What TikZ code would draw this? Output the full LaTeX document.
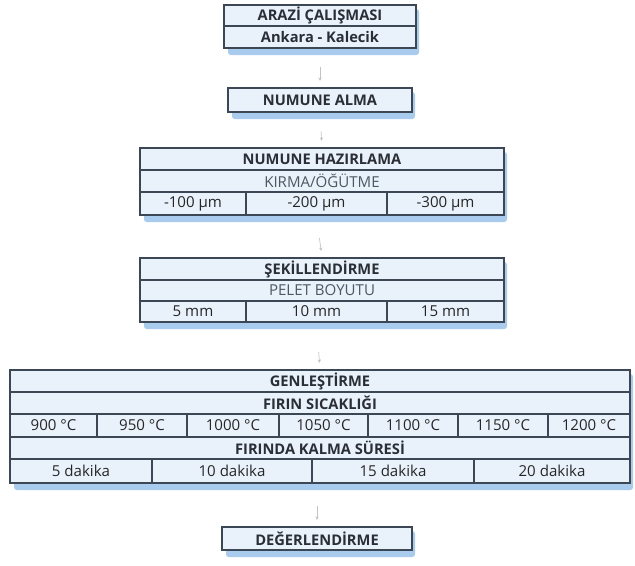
\documentclass[tikz,border=0pt]{standalone}
\usepackage{fontspec}
\setmainfont{Open Sans}
\usetikzlibrary{arrows.meta,positioning}
\definecolor{cellfill}{HTML}{E9F2FB}
\definecolor{cellline}{HTML}{3B4754}
\definecolor{shadowblue}{HTML}{A9CBEE}
\definecolor{arrowgray}{HTML}{BEC4CB}
\definecolor{softtext}{HTML}{4E5862}
\definecolor{headink}{HTML}{2A2F35}

\tikzset{
  cellbox/.style={draw=cellline, fill=cellfill, line width=0.8pt, inner sep=0pt,
    font=\fontsize{11.3}{13}\selectfont, text=black!85},
  headtxt/.style={font=\bfseries\fontsize{11}{13}\selectfont, text=headink},
  subtxt/.style={text=softtext},
  flowarrow/.style={-{Stealth[length=2.5pt,width=2.5pt]}, draw=arrowgray, line width=0.5pt, shorten >=5pt}
}

% cell: style, name, x1, x2, y1, y2, text
\newcommand{\tabcell}[7]{%
  \node[cellbox,#1,minimum width={(#4-#3)*0.75pt},minimum height={(#6-#5)*0.75pt}]
    (#2) at ({(#3+#4)/2},{(#5+#6)/2}) {#7};}
% shadow below a block: x1, x2, y1, y2
\newcommand{\blockshadow}[4]{%
  \fill[shadowblue, rounded corners=2pt] (#1+4,#3+4) rectangle (#2+3,#4+7);}

\begin{document}
\begin{tikzpicture}[x=0.75pt,y=-0.75pt]
  \useasboundingbox (0,0) rectangle (635,565);

  % arazi
  \blockshadow{224}{416}{5}{48}
  \tabcell{headtxt}{arazi}{224}{416}{5}{26}{ARAZİ ÇALIŞMASI}
  \tabcell{headtxt}{yer}{224}{416}{26}{48}{Ankara - Kalecik}

  % numune alma
  \blockshadow{228}{412}{88}{112}
  \tabcell{headtxt}{alma}{228}{412}{88}{112}{NUMUNE ALMA}

  % numune hazirlama
  \blockshadow{140}{504}{148}{215}
  \tabcell{headtxt}{hazir}{140}{504}{148}{170}{NUMUNE HAZIRLAMA}
  \tabcell{subtxt}{kirma}{140}{504}{170}{192}{KIRMA/ÖĞÜTME}
  \tabcell{}{boyA}{140}{246}{192}{215}{-100 µm}
  \tabcell{}{boyB}{246}{387}{192}{215}{-200 µm}
  \tabcell{}{boyC}{387}{504}{192}{215}{-300 µm}

  % sekillendirme
  \blockshadow{140}{504}{258}{322}
  \tabcell{headtxt}{sekil}{140}{504}{258}{280}{ŞEKİLLENDİRME}
  \tabcell{subtxt}{pelet}{140}{504}{280}{301}{PELET BOYUTU}
  \tabcell{}{peletA}{140}{246}{301}{322}{5 mm}
  \tabcell{}{peletB}{246}{387}{301}{322}{10 mm}
  \tabcell{}{peletC}{387}{504}{301}{322}{15 mm}

  % genlestirme
  \blockshadow{10}{630}{370}{483}
  \tabcell{headtxt}{genles}{10}{630}{370}{392}{GENLEŞTİRME}
  \tabcell{headtxt}{firin}{10}{630}{392}{414}{FIRIN SICAKLIĞI}
  \tabcell{}{sicA}{10}{97}{414}{437}{900 °C}
  \tabcell{}{sicB}{97}{187}{414}{437}{950 °C}
  \tabcell{}{sicC}{187}{279}{414}{437}{1000 °C}
  \tabcell{}{sicD}{279}{368}{414}{437}{1050 °C}
  \tabcell{}{sicE}{368}{458}{414}{437}{1100 °C}
  \tabcell{}{sicF}{458}{548}{414}{437}{1150 °C}
  \tabcell{}{sicG}{548}{630}{414}{437}{1200 °C}
  \tabcell{headtxt}{kalma}{10}{630}{437}{459}{FIRINDA KALMA SÜRESİ}
  \tabcell{}{sureA}{10}{152}{459}{483}{5 dakika}
  \tabcell{}{sureB}{152}{312}{459}{483}{10 dakika}
  \tabcell{}{sureC}{312}{474}{459}{483}{15 dakika}
  \tabcell{}{sureD}{474}{630}{459}{483}{20 dakika}

  % degerlendirme
  \blockshadow{222}{412}{527}{550}
  \tabcell{headtxt}{deger}{222}{412}{527}{550}{DEĞERLENDİRME}

  % oklar
  \draw[flowarrow, shorten <=14pt] (yer.south) -- (alma.north);
  \draw[flowarrow, shorten <=14pt] (alma.south) -- (hazir.north);
  \draw[flowarrow, shorten <=17pt] (boyB.south) -- (sekil.north);
  \draw[flowarrow, shorten <=22pt] (peletB.south) -- (genles.north);
  \draw[flowarrow, shorten <=17pt] (sureC.south -| deger.north) -- (deger.north);
\end{tikzpicture}
\end{document}
